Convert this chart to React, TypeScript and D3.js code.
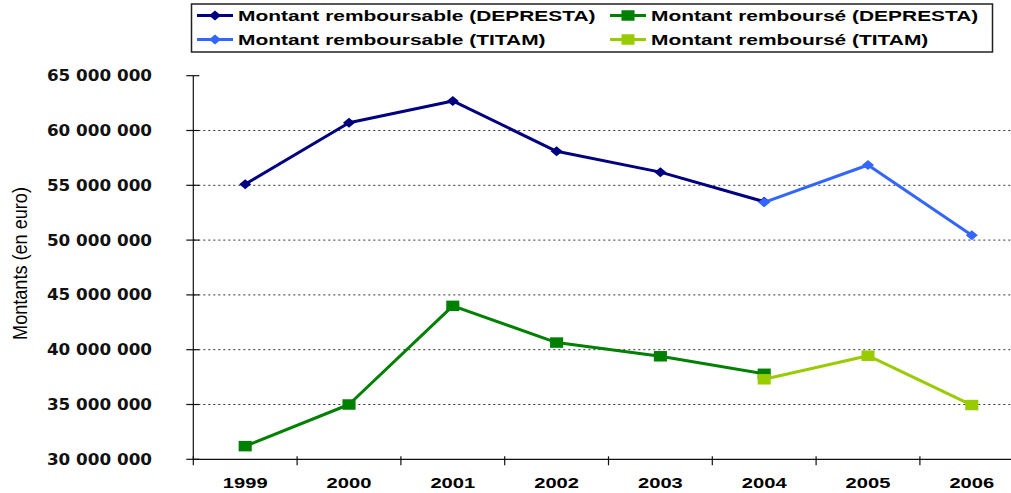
import React from 'react'
import * as d3 from 'd3'

const years = ['1999', '2000', '2001', '2002', '2003', '2004', '2005', '2006']
const yearsDepresta = ['1999', '2000', '2001', '2002', '2003', '2004']
const yearsTitam = ['2004', '2005', '2006']

const remboursableDepresta = [55100000, 60700000, 62700000, 58100000, 56200000, 53500000]
const rembourseDepresta = [31200000, 35000000, 44000000, 40650000, 39400000, 37800000]
const remboursableTitam = [53450000, 56850000, 50450000]
const rembourseTitam = [37300000, 39450000, 34950000]

const seriesNames = [
  'Montant remboursable (DEPRESTA)',
  'Montant remboursé (DEPRESTA)',
  'Montant remboursable (TITAM)',
  'Montant remboursé (TITAM)'
]
const seriesColors = ['#000080', '#008000', '#3366ff', '#99cc00']
const seriesShapes = ['diamond', 'square', 'diamond', 'square']

const yDomain = [30000000, 65000000]
const yTitle = 'Montants (en euro)'

function drawChart(svgRef: React.RefObject<SVGSVGElement>) {
  const width = 1011
  const height = 493
  const left = 193.3
  const top = 75.7
  const bottom = 459.3

  const svg = d3.select(svgRef.current)
  svg.selectAll('*').remove()
  svg.attr('width', width).attr('height', height).attr('viewBox', [0, 0, width, height])

  svg.append('rect').attr('width', width).attr('height', height).attr('fill', '#fff')

  const x = d3.scaleBand().domain(years).range([left, left + 8 * 103.8])
  const cx = (d: string) => (x(d) as number) + x.bandwidth() / 2
  const y = d3.scaleLinear().domain(yDomain).range([bottom, top])

  const fmt = (v: number) => d3.format(',')(v).replace(/,/g, ' ')
  const yTicks = y.ticks(7)

  // gridlines
  svg.append('g')
    .selectAll('line')
    .data(yTicks.filter(v => v > yDomain[0] && v < yDomain[1]))
    .join('line')
      .attr('x1', left)
      .attr('x2', width)
      .attr('y1', d => y(d))
      .attr('y2', d => y(d))
      .attr('stroke', '#333')
      .attr('stroke-width', 1)
      .attr('stroke-dasharray', '2,3')

  // axes
  const axes = svg.append('g').attr('stroke', '#111').attr('stroke-width', 1.2)
  axes.append('line').attr('x1', left).attr('x2', left).attr('y1', top).attr('y2', bottom)
  axes.append('line').attr('x1', left).attr('x2', width).attr('y1', bottom).attr('y2', bottom)
  axes.selectAll('.yt')
    .data(yTicks)
    .join('line')
      .attr('class', 'yt')
      .attr('x1', left - 7)
      .attr('x2', left + 6)
      .attr('y1', d => y(d))
      .attr('y2', d => y(d))
  axes.selectAll('.xt')
    .data(years)
    .join('line')
      .attr('class', 'xt')
      .attr('x1', d => x(d) as number)
      .attr('x2', d => x(d) as number)
      .attr('y1', bottom - 3)
      .attr('y2', bottom + 6)

  svg.append('g')
      .attr('font-family', '"DejaVu Sans", Verdana, sans-serif')
      .attr('font-weight', 'bold')
      .attr('font-size', 15)
      .attr('fill', '#111')
      .attr('text-anchor', 'end')
    .selectAll('text')
    .data(yTicks)
    .join('text')
      .attr('transform', d => `translate(152,${y(d) + 5.5}) scale(1.12,1)`)
      .text(d => fmt(d))

  svg.append('g')
      .attr('font-family', '"Liberation Sans", Arial, sans-serif')
      .attr('font-weight', 'bold')
      .attr('font-size', 15.5)
      .attr('fill', '#000')
      .attr('text-anchor', 'middle')
    .selectAll('text')
    .data(years)
    .join('text')
      .attr('transform', d => `translate(${cx(d)},488.3) scale(1.3,1)`)
      .text(d => d)

  svg.append('text')
      .attr('font-family', '"Liberation Sans", Arial, sans-serif')
      .attr('font-size', 17)
      .attr('fill', '#000')
      .attr('text-anchor', 'middle')
      .attr('transform', `translate(27,263.5) rotate(-90) scale(1.065,1.23)`)
      .text(yTitle)

  const series = [
    { years: yearsDepresta, values: remboursableDepresta },
    { years: yearsDepresta, values: rembourseDepresta },
    { years: yearsTitam, values: remboursableTitam },
    { years: yearsTitam, values: rembourseTitam }
  ]

  const diamondType = (d3 as any).symbolDiamond2 ?? d3.symbolDiamond
  const diamond = d3.symbol(diamondType, 64)()
  const square = d3.symbol(d3.symbolSquare, 110)()
  const markerPath = (s: string) => s === 'diamond' ? diamond : square
  const markerScale = (s: string) => s === 'diamond' ? 'scale(1.2,1)' : 'scale(1.25,1)'

  const line = d3.line<[string, number]>()
    .x(d => cx(d[0]))
    .y(d => y(d[1]))

  series.forEach((s, i) => {
    const pts: [string, number][] = s.years.map((yr, j) => [yr, s.values[j]])
    const g = svg.append('g')
    g.append('path')
      .attr('d', line(pts))
      .attr('fill', 'none')
      .attr('stroke', seriesColors[i])
      .attr('stroke-width', 3)
      .attr('stroke-linejoin', 'round')
    g.selectAll('path.m')
      .data(pts)
      .join('path')
        .attr('class', 'm')
        .attr('d', markerPath(seriesShapes[i]))
        .attr('fill', seriesColors[i])
        .attr('transform', d => `translate(${cx(d[0])},${y(d[1])}) ${markerScale(seriesShapes[i])}`)
  })

  // legend
  const legend = svg.append('g')
  legend.append('rect')
    .attr('x', 191.5)
    .attr('y', 4)
    .attr('width', 801)
    .attr('height', 48)
    .attr('fill', '#fff')
    .attr('stroke', '#222')
    .attr('stroke-width', 1.5)

  const colX = [197, 610]
  const rowY = [15.5, 39.5]
  seriesNames.forEach((name, i) => {
    const mx = colX[i % 2]
    const my = rowY[Math.floor(i / 2)]
    const item = legend.append('g')
    item.append('line')
      .attr('x1', mx)
      .attr('x2', mx + 36)
      .attr('y1', my)
      .attr('y2', my)
      .attr('stroke', seriesColors[i])
      .attr('stroke-width', 3)
    item.append('path')
      .attr('d', markerPath(seriesShapes[i]))
      .attr('fill', seriesColors[i])
      .attr('transform', `translate(${mx + 18},${my}) ${markerScale(seriesShapes[i])}`)
    item.append('text')
      .attr('font-family', '"Liberation Sans", Arial, sans-serif')
      .attr('font-weight', 'bold')
      .attr('font-size', 15.5)
      .attr('fill', '#000')
      .attr('transform', `translate(${mx + 41},${my + 5.6}) scale(1.35,1)`)
      .text(name)
  })

  return svg.node()
}

const App: React.FunctionComponent = () => {
  const svg = React.useRef<SVGSVGElement>(null)

  React.useEffect(() => {
    drawChart(svg)
  }, [svg])

  return (
    <div style={{ position: 'absolute', left: 0, top: 0 }}>
      <svg ref={svg} style={{ display: 'block' }} />
    </div>
  )
}

export default App
